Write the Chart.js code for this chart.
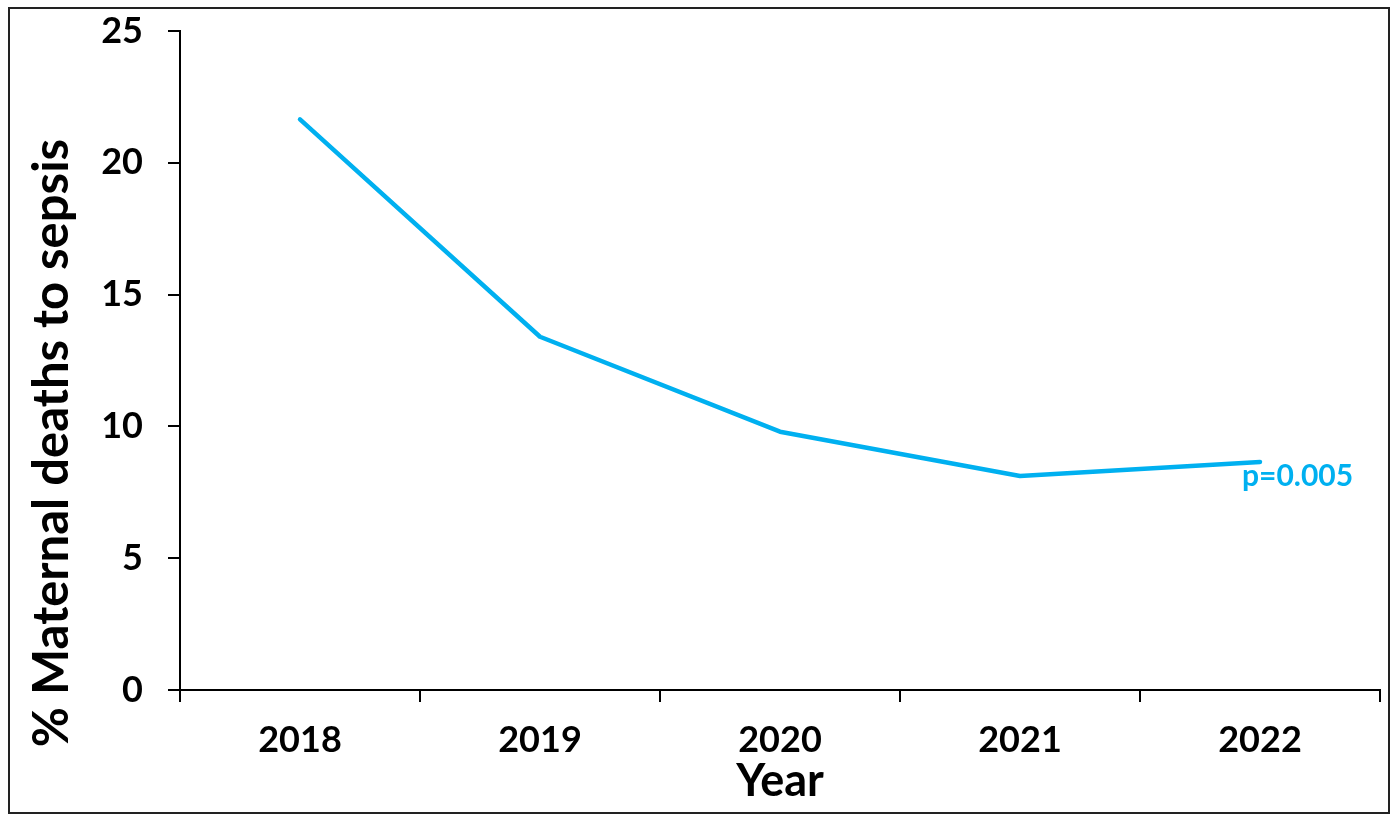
<!DOCTYPE html>
<html>
<head>
<meta charset="utf-8">
<style>
  html, body { margin: 0; padding: 0; background: #fff; }
  #wrap { width: 1392px; height: 814px; position: relative; }
</style>
<script src="https://cdn.jsdelivr.net/npm/chart.js@4/dist/chart.umd.min.js"></script>
</head>
<body>
<div id="wrap"><canvas id="chart" width="1392" height="814"></canvas></div>
<script>
// Share of maternal deaths attributed to sepsis, by year
const years = ['2018', '2019', '2020', '2021', '2022'];
const sepsisPct = [21.65, 13.4, 9.8, 8.12, 8.65];
const yTicks = [0, 5, 10, 15, 20, 25];
const trendLabel = 'p=0.005';
const xTitle = 'Year';
const yTitle = '% Maternal deaths to sepsis';

const LINE_BLUE = '#00B0F0';
const FONT = 'Lato, "Open Sans", sans-serif';

// Frame, axis titles and the trend annotation
const decorations = {
  id: 'decorations',
  afterDraw(chart) {
    const ctx = chart.ctx;
    ctx.save();
    // outer frame
    ctx.strokeStyle = '#222';
    ctx.lineWidth = 2;
    ctx.strokeRect(9, 8, 1380, 805);

    // axis titles
    ctx.fillStyle = '#000';
    ctx.textAlign = 'center';
    ctx.textBaseline = 'middle';
    ctx.font = 'bold 45px ' + FONT;
    ctx.fillText(xTitle, 780, 781);
    ctx.save();
    ctx.translate(52, 443);
    ctx.rotate(-Math.PI / 2);
    ctx.font = 'bold 49px ' + FONT;
    ctx.fillText(yTitle, 0, 0);
    ctx.restore();

    // p-value beside the last point
    const meta = chart.getDatasetMeta(0);
    const last = meta.data[meta.data.length - 1];
    ctx.fillStyle = LINE_BLUE;
    ctx.textAlign = 'left';
    ctx.textBaseline = 'middle';
    ctx.font = 'bold 30px ' + FONT;
    ctx.fillText(trendLabel, last.x - 18, last.y + 14);
    ctx.restore();
  }
};

new Chart(document.getElementById('chart'), {
  type: 'line',
  data: {
    labels: years,
    datasets: [{
      data: sepsisPct,
      borderColor: LINE_BLUE,
      backgroundColor: LINE_BLUE,
      borderWidth: 4.5,
      borderCapStyle: 'round',
      borderJoinStyle: 'round',
      pointRadius: 0,
      tension: 0,
      fill: false
    }]
  },
  options: {
    responsive: false,
    animation: false,
    layout: { padding: { top: 31, right: 12, bottom: 0, left: 0 } },
    plugins: { legend: { display: false }, tooltip: { enabled: false } },
    scales: {
      x: {
        offset: true,
        afterFit(scale) {
          scale.height = 124;
          scale.paddingLeft = 0;
          scale.paddingRight = 0;
        },
        grid: {
          offset: true,
          drawOnChartArea: false,
          drawTicks: true,
          tickLength: 12,
          color: '#000',
          lineWidth: 2
        },
        border: { display: true, color: '#000', width: 2 },
        ticks: {
          color: '#000',
          padding: 17,
          maxRotation: 0,
          font: { family: FONT, size: 36, weight: 'bold' }
        }
      },
      y: {
        min: 0,
        max: 25,
        afterFit(scale) {
          scale.width = 180;
          scale.paddingTop = 0;
          scale.paddingBottom = 0;
        },
        afterBuildTicks(scale) { scale.ticks = yTicks.map(v => ({ value: v })); },
        grid: {
          drawOnChartArea: false,
          drawTicks: true,
          tickLength: 12,
          color: '#000',
          lineWidth: 2
        },
        border: { display: true, color: '#000', width: 2 },
        ticks: {
          color: '#000',
          padding: 25,
          font: { family: FONT, size: 36, weight: 'bold' }
        }
      }
    }
  },
  plugins: [decorations]
});
</script>
</body>
</html>
